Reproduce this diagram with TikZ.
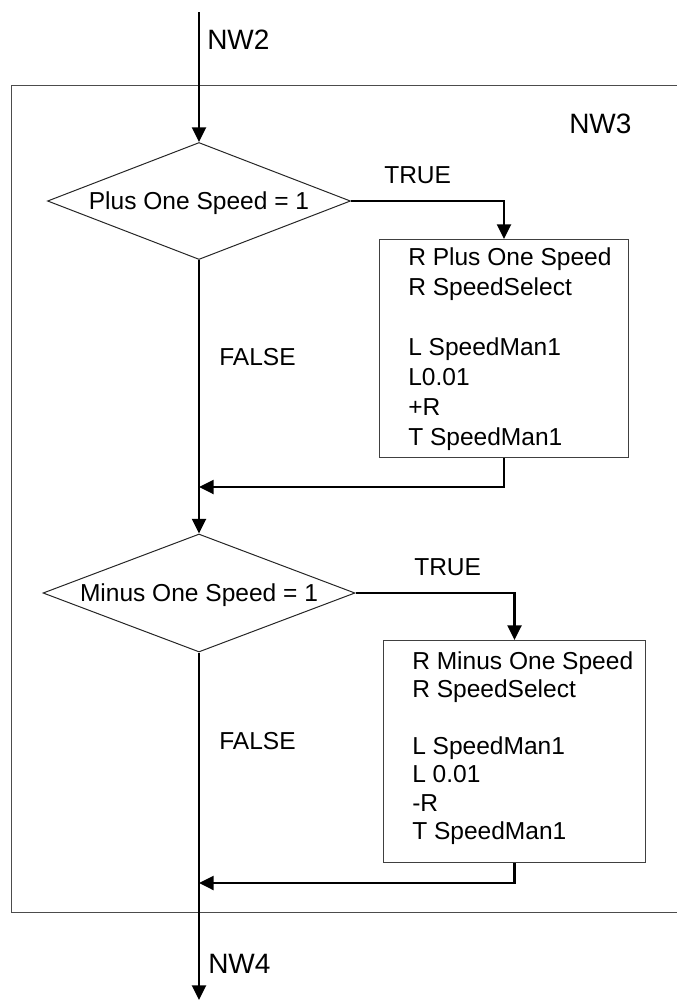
\documentclass[tikz,border=0pt]{standalone}
\usepackage{fontspec}
\setmainfont{Liberation Sans}
\usetikzlibrary{arrows.meta,shapes.geometric}
\begin{document}
\begin{tikzpicture}[x=0.75pt,y=-0.75pt,
  flow/.style={line width=1.75pt,-{Triangle[length=11pt,width=10.5pt]}},
  decision/.style={diamond,draw=black!85,line width=0.75pt,inner sep=0pt,
    font=\fontsize{18.4}{22}\selectfont,text depth=0pt},
  stepbox/.style={rectangle,draw=black!75,line width=0.75pt,anchor=north west,inner sep=0pt},
  boxline/.style={anchor=base west,inner sep=0pt,font=\fontsize{18.4}{22}\selectfont},
  lbl/.style={anchor=base west,inner sep=0pt,font=\fontsize{18.4}{22}\selectfont},
  netlbl/.style={anchor=base west,inner sep=0pt,font=\fontsize{21}{25}\selectfont},
  frame/.style={draw=black!70,line width=0.75pt}
]
\useasboundingbox (0,0) rectangle (677,1001);

% network frame NW3 (runs off the right edge)
\draw[frame] (11,85) rectangle (700,912);

% decisions
\node[decision,aspect=2.59,minimum width=227.25pt,minimum height=87.75pt] (d1) at (199,201) {Plus One Speed = 1};
\node[decision,aspect=2.64,minimum width=234pt,minimum height=88.5pt] (d2) at (199,593) {Minus One Speed = 1};

% action boxes
\node[stepbox,minimum width=186.75pt,minimum height=163.5pt] (b1) at (379,239) {};
\node[stepbox,minimum width=196.5pt,minimum height=166.5pt] (b2) at (383,640) {};

\foreach \k/\t in {0/R Plus One Speed,1/R SpeedSelect,3/L SpeedMan1,4/L0.01,5/+R,6/T SpeedMan1}
  \node[boxline] (b1t\k) at (408,{265+30*\k}) {\t};
\foreach \k/\t in {0/R Minus One Speed,1/R SpeedSelect,3/L SpeedMan1,4/L 0.01,5/-R,6/T SpeedMan1}
  \node[boxline] (b2t\k) at (412,{669+28.4*\k}) {\t};

% labels
\node[netlbl] (nw2) at (207,49) {NW2};
\node[netlbl] (nw3) at (569,133) {NW3};
\node[netlbl] (nw4) at (208,973) {NW4};
\node[lbl] (t1) at (384,183) {TRUE};
\node[lbl] (t2) at (414,575) {TRUE};
\node[lbl] (f1) at (219,365) {FALSE};
\node[lbl] (f2) at (219,749) {FALSE};

% connectors
\coordinate (in) at (199,12);
\coordinate (j1) at (199,487);
\coordinate (j2) at (199,883);
\coordinate (out) at (199,1000);

\draw[flow] (in) -- (d1.north);
\draw[flow] (d1.east) -| (b1.north);
\draw[flow] (b1.south) |- (j1);
\draw[flow] (d1.south) -- (d2.north);
\draw[flow] (d2.east) -| (b2.north);
\draw[flow] (b2.south) |- (j2);
\draw[flow] (d2.south) -- (out);
\end{tikzpicture}
\end{document}
